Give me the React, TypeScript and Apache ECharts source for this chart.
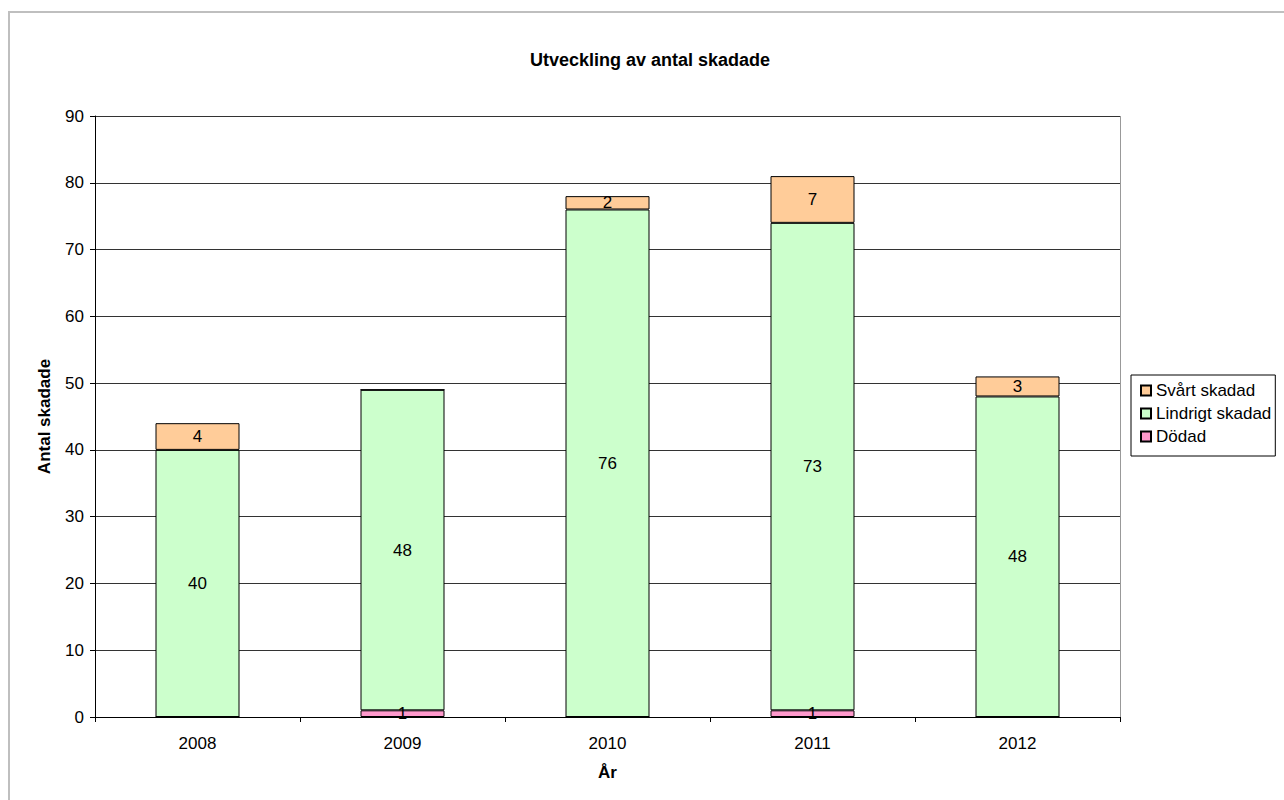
import React, { useEffect, useRef } from "react";
import * as echarts from "echarts";

const years = ["2008", "2009", "2010", "2011", "2012"];
const dodad = [0, 1, 0, 1, 0];
const lindrigt = [40, 48, 76, 73, 48];
const svart = [4, 0, 2, 7, 3];

const FONT = "'Liberation Sans', Arial, sans-serif";

const hideZero = (p: any) => (p.value ? String(p.value) : "");

const seg = (name: string, data: number[], color: string) => ({
  name,
  type: "bar",
  stack: "total",
  data,
  barWidth: 84,
  itemStyle: { color, borderColor: "#000", borderWidth: 1 },
  label: {
    show: true,
    position: "inside",
    formatter: hideZero,
    color: "#000",
    fontFamily: FONT,
    fontSize: 17,
  },
});

export default function App() {
  const ref = useRef<HTMLDivElement>(null);
  useEffect(() => {
    const chart = echarts.init(ref.current!, null, { renderer: "svg" });
    chart.setOption({
      animation: false,
      backgroundColor: "#fff",
      textStyle: { fontFamily: FONT },
      title: {
        text: "Utveckling av antal skadade",
        left: 645,
        top: 46,
        textAlign: "center",
        textStyle: { fontFamily: FONT, fontSize: 18, fontWeight: "bold", color: "#000" },
      },
      legend: {
        orient: "vertical",
        left: 1131,
        top: 375,
        data: ["Svårt skadad", "Lindrigt skadad", "Dödad"],
        icon: "rect",
        itemWidth: 10,
        itemHeight: 10,
        itemGap: 6,
        padding: [7, 4, 11, 9],
        borderColor: "#000",
        borderWidth: 1,
        textStyle: { fontFamily: FONT, fontSize: 17, color: "#000" },
      },
      grid: { left: 95, right: 164, top: 116, bottom: 83, containLabel: false },
      xAxis: {
        type: "category",
        data: years,
        name: "År",
        nameLocation: "middle",
        nameGap: 47,
        nameTextStyle: { fontFamily: FONT, fontSize: 17, fontWeight: "bold", color: "#000" },
        axisLine: { lineStyle: { color: "#000", width: 1 } },
        axisTick: { show: true, length: 5, lineStyle: { color: "#000" } },
        axisLabel: { color: "#000", fontSize: 17, fontFamily: FONT, margin: 18 },
      },
      yAxis: {
        type: "value",
        min: 0,
        max: 90,
        interval: 10,
        name: "Antal skadade",
        nameLocation: "middle",
        nameGap: 42,
        nameTextStyle: { fontFamily: FONT, fontSize: 17, fontWeight: "bold", color: "#000" },
        axisLine: { show: true, lineStyle: { color: "#000", width: 1 } },
        axisTick: { show: true, length: 5, lineStyle: { color: "#000" } },
        axisLabel: { color: "#000", fontSize: 17, fontFamily: FONT, margin: 11 },
        splitLine: { show: true, lineStyle: { color: "#333", width: 1 } },
      },
      graphic: [
        {
          type: "rect",
          shape: { x: 9, y: 12, width: 1300, height: 820 },
          style: { fill: "none", stroke: "#bfbfbf", lineWidth: 2 },
          silent: true,
        },
        {
          type: "line",
          shape: { x1: 1120.5, y1: 116, x2: 1120.5, y2: 717 },
          style: { stroke: "#999", lineWidth: 1 },
          silent: true,
        },
      ],
      series: [
        seg("Dödad", dodad, "#FF99CC"),
        seg("Lindrigt skadad", lindrigt, "#CCFFCC"),
        seg("Svårt skadad", svart, "#FFCC99"),
      ],
    });
    return () => chart.dispose();
  }, []);
  return (
    <div
      ref={ref}
      style={{ position: "fixed", left: 0, top: 0, width: 1284, height: 800 }}
    />
  );
}
